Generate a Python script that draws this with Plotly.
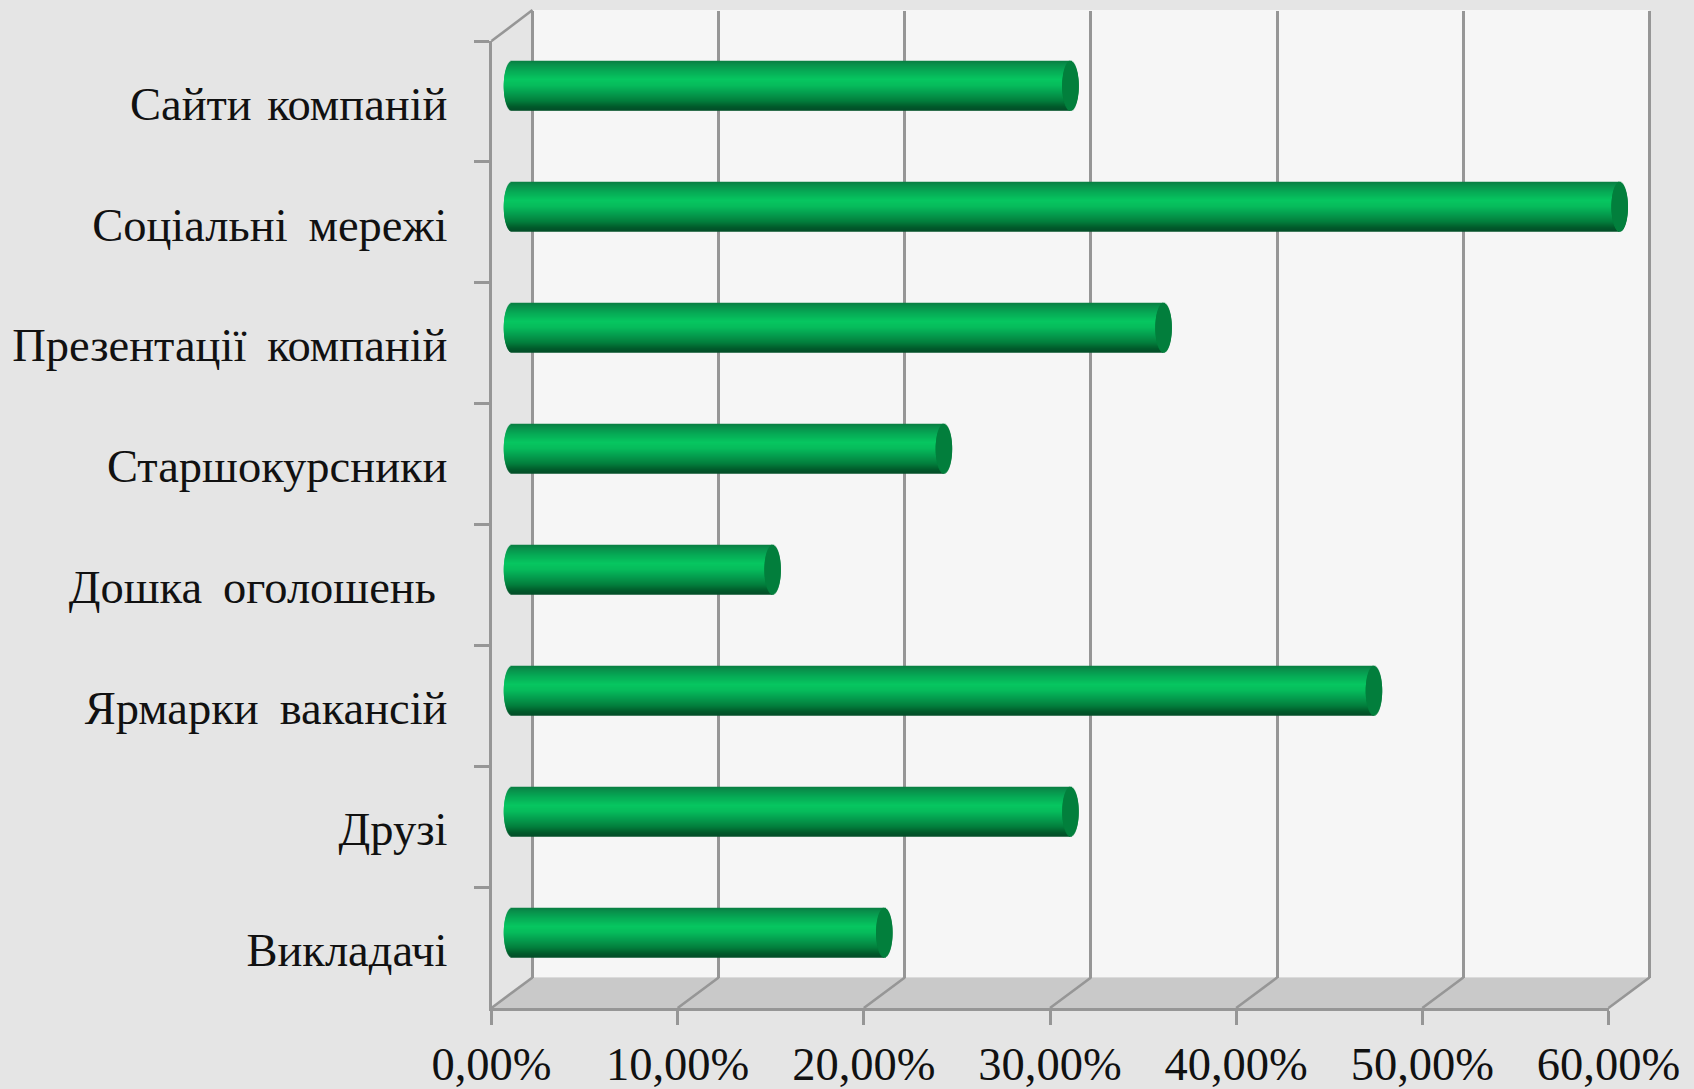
import math
import plotly.graph_objects as go

# ---------- data ----------
CATEGORIES = ["Сайти\u00a0\u200aкомпаній", "Соціальні\u00a0\u2009мережі", "Презентації\u00a0\u2009компаній",
              "Старшокурсники", "Дошка\u00a0\u2009оголошень\u00a0", "Ярмарки\u00a0\u2009вакансій",
              "Друзі", "Викладачі"]
VALUES = [30.0, 59.5, 35.0, 23.2, 14.0, 46.3, 30.0, 20.0]
TICK_VALUES = [0, 10, 20, 30, 40, 50, 60]
TICK_LABELS = ["0,00%", "10,00%", "20,00%", "30,00%", "40,00%", "50,00%", "60,00%"]

# ---------- style / layout geometry (px) ----------
W, H = 1694, 1089
FRONT_L, FRONT_R = 491.5, 1608.5
FRONT_T, FRONT_B = 41.0, 1008.0
DX, DY = 41.0, 30.5
PX_PER_UNIT = (FRONT_R - FRONT_L) / 60.0
GREY = "#969696"
LINE_W = 2.6
BG = "#e5e5e5"
WALL = "#f6f6f6"
FLOOR = "#c9c9c9"
TEXT = "#111111"
FONT = "Liberation Serif"
FONT_SIZE = 46.5
LABEL_SHIFT = 2.0
CAP = "#037f3c"
STOPS = [(0.0, (10, 125, 66)), (0.08, (8, 145, 76)), (0.22, (7, 172, 86)), (0.38, (7, 198, 96)),
         (0.5, (7, 188, 92)), (0.66, (5, 158, 78)), (0.82, (3, 125, 60)), (0.93, (2, 92, 44)),
         (1.0, (3, 78, 40))]
SLICES = 49
BAR_WIDTH = 0.405
CAP_RX = 8.25 / PX_PER_UNIT
WALL_PAD = 0.1


def px(v):
    return v / W


def py(v):
    return 1 - v / H


def shade(t):
    for (a, ca), (b, cb) in zip(STOPS, STOPS[1:]):
        if t <= b:
            f = (t - a) / (b - a)
            return "rgb(%d,%d,%d)" % tuple(round(x + (y - x) * f) for x, y in zip(ca, cb))
    return "rgb(%d,%d,%d)" % STOPS[-1][1]


fig = go.Figure()

# back wall axes need a trace; front axes carry the categories
fig.add_trace(go.Scatter(x=TICK_VALUES, y=[0] * len(TICK_VALUES), xaxis="x", yaxis="y", mode="markers",
                         marker=dict(opacity=0), hoverinfo="skip", showlegend=False))
fig.add_trace(go.Scatter(x=[0] * len(CATEGORIES), y=CATEGORIES, xaxis="x2", yaxis="y2", mode="markers",
                         marker=dict(opacity=0), hoverinfo="skip", showlegend=False))
fig.add_trace(go.Scatter(x=[0] * len(CATEGORIES), y=CATEGORIES, xaxis="x4", yaxis="y4", mode="markers",
                         marker=dict(opacity=0), hoverinfo="skip", showlegend=False))

# cylinder bodies, then end caps, as thin stacked bar slices
dt = BAR_WIDTH / SLICES
for i in range(SLICES):
    t = (i + 0.5) / SLICES
    half = math.sqrt(max(0.0, 1 - (2 * t - 1) ** 2))
    off = -BAR_WIDTH / 2 + i * dt
    fig.add_trace(go.Bar(orientation="h", y=CATEGORIES, x=[v + CAP_RX * half for v in VALUES],
                         base=-CAP_RX * half, offset=off, width=min(dt * 1.5, BAR_WIDTH / 2 - off),
                         marker=dict(color=shade(t), line=dict(width=0)), xaxis="x3", yaxis="y3",
                         hovertemplate="%{y}: %{x:.1f}%<extra></extra>", showlegend=False))
for i in range(SLICES):
    t = (i + 0.5) / SLICES
    half = math.sqrt(max(0.0, 1 - (2 * t - 1) ** 2))
    off = -BAR_WIDTH / 2 + i * dt
    fig.add_trace(go.Bar(orientation="h", y=CATEGORIES, x=[2 * CAP_RX * half] * len(VALUES),
                         base=[v - CAP_RX * half for v in VALUES], offset=off,
                         width=min(dt * 1.5, BAR_WIDTH / 2 - off),
                         marker=dict(color=CAP, line=dict(width=0)), xaxis="x3", yaxis="y3",
                         hoverinfo="skip", showlegend=False))

shapes = [
    dict(type="rect", xref="paper", yref="paper", layer="below", line_width=0, fillcolor=WALL,
         x0=px(FRONT_L + DX), x1=px(FRONT_R + DX), y0=py(FRONT_B - DY), y1=py(FRONT_T - DY - 0.5)),
    dict(type="path", xref="paper", yref="paper", layer="below", line_width=0, fillcolor=FLOOR,
         path="M %f %f L %f %f L %f %f L %f %f Z" % (px(FRONT_L), py(FRONT_B), px(FRONT_L + DX), py(FRONT_B - DY),
                                                      px(FRONT_R + DX), py(FRONT_B - DY), px(FRONT_R), py(FRONT_B))),
    dict(type="line", xref="paper", yref="paper", line=dict(color=GREY, width=LINE_W),
         x0=px(FRONT_L), y0=py(FRONT_T), x1=px(FRONT_L + DX), y1=py(FRONT_T - DY - 0.5)),
]
for tv in TICK_VALUES:
    fig_x0 = px(FRONT_L + tv * PX_PER_UNIT)
    fig_x1 = px(FRONT_L + DX + tv * PX_PER_UNIT)
    shapes.append(dict(type="line", xref="paper", yref="paper", line=dict(color=GREY, width=LINE_W),
                       x0=fig_x0, y0=py(FRONT_B), x1=fig_x1, y1=py(FRONT_B - DY)))

BAR_RANGE = [-2, 62]
bar_l = FRONT_L + DX / 2 + BAR_RANGE[0] * PX_PER_UNIT
bar_r = FRONT_L + DX / 2 + BAR_RANGE[1] * PX_PER_UNIT
pad_px = WALL_PAD * PX_PER_UNIT

fig.update_layout(
    width=W, height=H, autosize=False,
    margin=dict(l=0, r=0, t=0, b=0, autoexpand=False),
    paper_bgcolor=BG, plot_bgcolor="rgba(0,0,0,0)",
    barmode="overlay", showlegend=False, shapes=shapes,
    font=dict(family=FONT, color=TEXT, size=FONT_SIZE),
    xaxis=dict(domain=[px(FRONT_L + DX - pad_px), px(FRONT_R + DX + pad_px)],
               range=[-WALL_PAD, 60 + WALL_PAD], anchor="y",
               tickmode="array", tickvals=TICK_VALUES, showticklabels=False, ticks="",
               showgrid=True, gridcolor=GREY, gridwidth=LINE_W, zeroline=False, showline=False),
    yaxis=dict(domain=[py(FRONT_B - DY), py(FRONT_T - DY)], range=[0, 1], anchor="x", visible=False),
    xaxis2=dict(domain=[px(FRONT_L), px(FRONT_R)], range=[0, 60], anchor="y2",
                tickmode="array", tickvals=TICK_VALUES, ticktext=TICK_LABELS,
                ticks="outside", ticklen=14, tickwidth=LINE_W, tickcolor=GREY,
                showline=True, linecolor=GREY, linewidth=LINE_W, showgrid=False, zeroline=False,
                ticklabelstandoff=-1,
                tickfont=dict(family=FONT, size=FONT_SIZE, color=TEXT)),
    yaxis2=dict(domain=[py(FRONT_B), py(FRONT_T)], type="category", categoryorder="array",
                categoryarray=CATEGORIES, range=[len(CATEGORIES) - 0.5, -0.5], anchor="x2",
                tickson="boundaries", ticks="outside", ticklen=15, tickwidth=LINE_W, tickcolor=GREY,
                showline=True, linecolor=GREY, linewidth=LINE_W, showgrid=False, zeroline=False,
                showticklabels=False),
    xaxis3=dict(domain=[px(bar_l), px(bar_r)], range=BAR_RANGE, anchor="y3", visible=False),
    yaxis3=dict(domain=[py(FRONT_B - DY / 2), py(FRONT_T - DY / 2)], type="category", categoryorder="array",
                categoryarray=CATEGORIES, range=[len(CATEGORIES) - 0.5, -0.5], anchor="x3", visible=False),
    xaxis4=dict(domain=[px(FRONT_L), px(FRONT_R)], range=[0, 60], anchor="y4", visible=False),
    yaxis4=dict(domain=[py(FRONT_B + LABEL_SHIFT), py(FRONT_T + LABEL_SHIFT)], type="category",
                categoryorder="array", categoryarray=CATEGORIES, range=[len(CATEGORIES) - 0.5, -0.5],
                anchor="x4", ticks="", showline=False, showgrid=False, zeroline=False,
                ticklabelstandoff=43,
                tickfont=dict(family=FONT, size=FONT_SIZE, color=TEXT)),
)

fig.write_html("out.html", config=dict(displayModeBar=False),
               post_script="document.body.style.margin='0';document.body.style.overflow='hidden';")
